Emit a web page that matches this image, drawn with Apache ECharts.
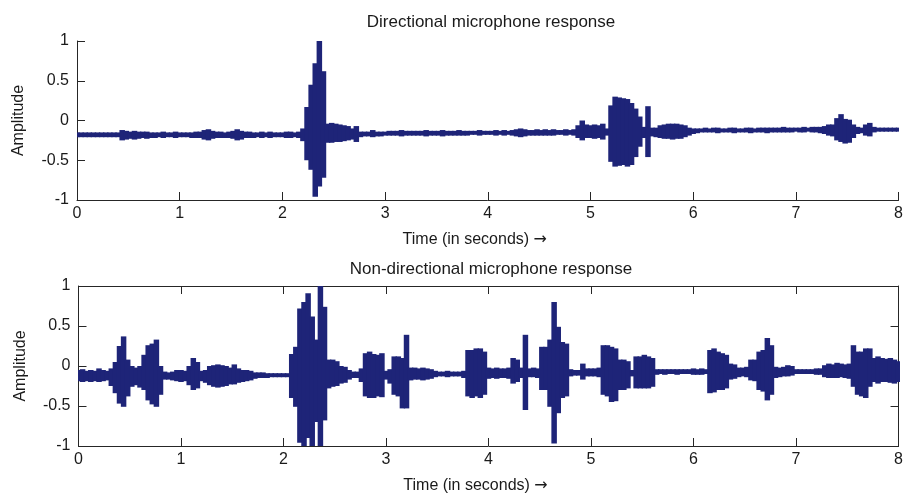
<!DOCTYPE html>
<html>
<head>
<meta charset="utf-8">
<script src="https://cdn.jsdelivr.net/npm/echarts@6/dist/echarts.min.js"></script>
<style>
html,body{margin:0;padding:0;background:#fff;}
#chart{width:906px;height:497px;}
</style>
</head>
<body>
<div id="chart"></div>
<script>
// Sampling step (seconds) of the envelope readings below
const STEP = 0.04;
const xTicks = [0, 1, 2, 3, 4, 5, 6, 7, 8];
const yTicks = [-1, -0.5, 0, 0.5, 1];
const titleTop = 'Directional microphone response';
const titleBottom = 'Non-directional microphone response';
const xName = 'Time (in seconds) {arr|\u2192}';
const yName = 'Amplitude';

// Directional microphone: upper / lower envelope, one value per 0.04 s
const dirHi = [
  -0.15,-0.15,-0.15,-0.15,-0.15,-0.15,-0.15,-0.15,-0.15,-0.15,-0.15,-0.12,-0.13,-0.14,-0.13,-0.14,-0.14,-0.14,-0.15,-0.15,-0.15,-0.14,-0.15,-0.15,-0.14,
  -0.15,-0.15,-0.15,-0.15,-0.14,-0.14,-0.12,-0.11,-0.13,-0.14,-0.14,-0.15,-0.14,-0.13,-0.11,-0.13,-0.14,-0.14,-0.15,-0.15,-0.14,-0.15,-0.14,-0.15,-0.15,
  -0.15,-0.14,-0.14,-0.15,-0.14,-0.10,0.17,0.45,0.72,1.00,0.62,-0.04,-0.03,-0.04,-0.05,-0.06,-0.07,-0.10,-0.07,-0.14,-0.14,-0.14,-0.12,-0.14,-0.14,
  -0.14,-0.13,-0.13,-0.13,-0.12,-0.13,-0.13,-0.13,-0.13,-0.13,-0.12,-0.13,-0.13,-0.13,-0.12,-0.13,-0.13,-0.13,-0.12,-0.13,-0.13,-0.13,-0.13,-0.12,-0.13,
  -0.13,-0.13,-0.12,-0.13,-0.12,-0.13,-0.12,-0.11,-0.10,-0.11,-0.12,-0.12,-0.11,-0.12,-0.11,-0.12,-0.11,-0.12,-0.12,-0.11,-0.12,-0.11,-0.06,0.00,-0.05,
  -0.06,-0.05,-0.06,-0.04,-0.10,0.19,0.30,0.29,0.28,0.27,0.22,0.15,0.05,-0.08,0.18,-0.09,-0.09,-0.06,-0.05,-0.04,-0.04,-0.04,-0.05,-0.06,-0.09,
  -0.10,-0.10,-0.10,-0.09,-0.10,-0.09,-0.09,-0.10,-0.10,-0.09,-0.09,-0.10,-0.10,-0.09,-0.09,-0.10,-0.09,-0.09,-0.09,-0.09,-0.09,-0.09,-0.08,-0.09,-0.09,
  -0.09,-0.09,-0.08,-0.09,-0.08,-0.08,-0.08,-0.07,-0.05,-0.05,0.03,0.08,0.02,0.01,-0.05,-0.08,-0.09,-0.05,-0.03,-0.08,-0.09,-0.09,-0.09,-0.09,-0.09,
  -0.09
];
const dirLo = [
  -0.21,-0.21,-0.21,-0.21,-0.21,-0.21,-0.21,-0.21,-0.21,-0.21,-0.21,-0.25,-0.24,-0.23,-0.24,-0.23,-0.22,-0.23,-0.22,-0.22,-0.21,-0.22,-0.21,-0.21,-0.22,
  -0.21,-0.21,-0.21,-0.22,-0.22,-0.22,-0.24,-0.25,-0.23,-0.22,-0.22,-0.22,-0.22,-0.23,-0.25,-0.24,-0.22,-0.22,-0.22,-0.21,-0.22,-0.21,-0.22,-0.21,-0.21,
  -0.21,-0.22,-0.22,-0.21,-0.22,-0.26,-0.50,-0.62,-0.96,-0.83,-0.72,-0.28,-0.28,-0.27,-0.27,-0.26,-0.25,-0.24,-0.27,-0.21,-0.20,-0.20,-0.21,-0.20,-0.20,
  -0.19,-0.19,-0.19,-0.19,-0.20,-0.19,-0.19,-0.19,-0.19,-0.19,-0.20,-0.19,-0.19,-0.19,-0.20,-0.19,-0.19,-0.19,-0.19,-0.19,-0.19,-0.18,-0.18,-0.19,-0.18,
  -0.18,-0.18,-0.19,-0.18,-0.19,-0.18,-0.19,-0.20,-0.21,-0.20,-0.19,-0.19,-0.19,-0.19,-0.19,-0.19,-0.19,-0.18,-0.18,-0.19,-0.18,-0.19,-0.22,-0.25,-0.22,
  -0.22,-0.23,-0.22,-0.24,-0.19,-0.52,-0.58,-0.57,-0.56,-0.58,-0.56,-0.46,-0.33,-0.22,-0.46,-0.20,-0.21,-0.22,-0.23,-0.23,-0.24,-0.23,-0.23,-0.21,-0.19,
  -0.17,-0.16,-0.15,-0.15,-0.15,-0.15,-0.16,-0.15,-0.15,-0.15,-0.16,-0.15,-0.15,-0.15,-0.16,-0.15,-0.15,-0.15,-0.16,-0.15,-0.15,-0.15,-0.15,-0.15,-0.15,
  -0.14,-0.15,-0.15,-0.14,-0.15,-0.15,-0.16,-0.17,-0.19,-0.20,-0.25,-0.27,-0.29,-0.28,-0.22,-0.17,-0.16,-0.19,-0.20,-0.15,-0.14,-0.14,-0.14,-0.14,-0.14,
  -0.14
];

// Non-directional microphone: upper / lower envelope, one value per 0.04 s
const nonHi = [
  -0.05,-0.04,-0.06,-0.05,-0.06,-0.03,-0.05,-0.06,-0.03,0.05,0.25,0.37,0.08,0.00,-0.02,0.00,0.14,0.26,0.28,0.33,0.00,-0.07,-0.08,-0.07,-0.05,
  -0.05,-0.06,0.00,0.10,0.05,-0.06,-0.05,0.00,0.01,0.02,0.01,0.00,-0.02,0.02,-0.03,-0.05,-0.05,-0.06,-0.08,-0.08,-0.08,-0.09,-0.09,-0.09,-0.09,
  -0.09,-0.09,0.15,0.24,0.72,0.80,0.91,0.62,0.33,1.00,0.74,0.08,0.08,0.06,0.00,-0.01,-0.05,-0.07,-0.07,-0.03,0.16,0.18,0.15,0.14,0.16,
  -0.06,-0.04,0.12,0.12,0.10,0.39,-0.02,-0.02,-0.03,-0.02,-0.03,-0.04,-0.06,-0.07,-0.07,-0.06,-0.07,-0.07,-0.07,-0.06,0.20,0.20,0.22,0.22,0.18,
  -0.02,-0.03,-0.02,-0.03,-0.03,-0.02,0.10,0.08,-0.02,0.39,-0.03,-0.02,-0.03,0.24,0.24,0.33,0.80,0.49,0.30,0.28,-0.04,-0.05,-0.05,0.03,-0.03,
  -0.03,-0.03,-0.02,0.26,0.26,0.24,0.22,0.08,0.08,0.06,-0.05,0.12,0.12,0.14,0.12,0.10,-0.04,-0.04,-0.04,-0.04,-0.04,-0.04,-0.04,-0.04,-0.04,
  -0.03,-0.04,-0.03,-0.04,0.20,0.22,0.18,0.16,0.14,0.03,0.02,-0.02,-0.02,-0.01,0.08,0.08,0.18,0.20,0.35,0.26,-0.01,-0.02,-0.01,0.01,0.00,
  -0.04,-0.04,-0.04,-0.04,-0.04,-0.03,-0.03,0.01,0.03,0.02,0.04,0.03,0.02,0.03,0.26,0.18,0.18,0.22,0.22,0.10,0.12,0.10,0.09,0.10,0.08,
  0.06
];
const nonLo = [
  -0.19,-0.20,-0.19,-0.20,-0.19,-0.20,-0.19,-0.18,-0.25,-0.34,-0.47,-0.51,-0.38,-0.26,-0.24,-0.27,-0.30,-0.43,-0.48,-0.51,-0.36,-0.17,-0.17,-0.18,-0.19,
  -0.20,-0.19,-0.24,-0.30,-0.28,-0.19,-0.21,-0.24,-0.26,-0.27,-0.26,-0.25,-0.23,-0.23,-0.21,-0.20,-0.19,-0.18,-0.16,-0.15,-0.15,-0.15,-0.14,-0.14,-0.14,
  -0.14,-0.14,-0.40,-0.51,-0.96,-1.00,-0.90,-1.00,-0.70,-1.00,-0.68,-0.28,-0.26,-0.25,-0.22,-0.21,-0.17,-0.15,-0.15,-0.20,-0.38,-0.40,-0.40,-0.38,-0.39,
  -0.17,-0.22,-0.36,-0.38,-0.53,-0.53,-0.18,-0.17,-0.17,-0.18,-0.17,-0.16,-0.14,-0.13,-0.13,-0.14,-0.13,-0.13,-0.13,-0.15,-0.38,-0.40,-0.38,-0.40,-0.36,
  -0.16,-0.15,-0.16,-0.15,-0.15,-0.16,-0.22,-0.20,-0.15,-0.55,-0.14,-0.14,-0.15,-0.30,-0.30,-0.51,-0.97,-0.59,-0.40,-0.38,-0.13,-0.12,-0.12,-0.17,-0.13,
  -0.13,-0.13,-0.14,-0.36,-0.38,-0.45,-0.44,-0.30,-0.30,-0.28,-0.13,-0.28,-0.28,-0.28,-0.28,-0.26,-0.11,-0.10,-0.11,-0.10,-0.10,-0.11,-0.10,-0.10,-0.10,
  -0.11,-0.11,-0.11,-0.10,-0.34,-0.33,-0.30,-0.30,-0.28,-0.17,-0.16,-0.14,-0.13,-0.14,-0.18,-0.19,-0.30,-0.32,-0.43,-0.36,-0.15,-0.14,-0.13,-0.13,-0.12,
  -0.10,-0.10,-0.10,-0.10,-0.10,-0.11,-0.11,-0.14,-0.15,-0.15,-0.15,-0.14,-0.15,-0.16,-0.26,-0.36,-0.38,-0.40,-0.26,-0.20,-0.22,-0.20,-0.20,-0.21,-0.22,
  -0.20
];

const WAVE = '#1e2478';
const AXIS = '#262626';
const TEXT = '#1a1a1a';
const FONT = '"Liberation Sans", Arial, sans-serif';

function toItems(hi, lo) {
  return hi.map((h, i) => [i * STEP, lo[i], h]);
}

function renderEnvelope(params, api) {
  const t = api.value(0), lo = api.value(1), hi = api.value(2);
  const a = api.coord([t, hi]);
  const b = api.coord([t, lo]);
  const w = api.size([STEP, 0])[0];
  return {
    type: 'rect',
    shape: { x: a[0] - w / 2 - 0.7, y: a[1], width: w + 1.4, height: Math.max(b[1] - a[1], 1) },
    style: { fill: WAVE }
  };
}

function xAx(gi, withName) {
  return {
    type: 'value', gridIndex: gi, min: xTicks[0], max: xTicks[xTicks.length - 1], interval: 1,
    axisLine: { show: true, onZero: false, lineStyle: { color: AXIS, width: 1 } },
    axisTick: { show: true, inside: true, length: 8, lineStyle: { color: AXIS } },
    axisLabel: { show: true, margin: 6, fontSize: 16, color: TEXT, fontFamily: FONT, showMaxLabel: true, showMinLabel: true },
    splitLine: { show: false },
    name: withName ? xName : '',
    nameLocation: 'middle', nameGap: 32,
    nameTextStyle: {
      fontSize: 16, color: TEXT, fontFamily: FONT, padding: [0, 26, 0, 0],
      rich: { arr: { fontSize: 16, color: TEXT, fontFamily: '"DejaVu Sans", sans-serif' } }
    }
  };
}
function yAx(gi) {
  return {
    type: 'value', gridIndex: gi, min: yTicks[0], max: yTicks[yTicks.length - 1], interval: 0.5,
    axisLine: { show: true, onZero: false, lineStyle: { color: AXIS, width: 1 } },
    axisTick: { show: true, inside: true, length: 8, lineStyle: { color: AXIS } },
    axisLabel: { show: true, margin: 8, fontSize: 16, color: TEXT, fontFamily: FONT },
    splitLine: { show: false },
    name: yName, nameLocation: 'middle', nameGap: 50, nameRotate: 90,
    nameTextStyle: { fontSize: 16, color: TEXT, fontFamily: FONT }
  };
}

const chart = echarts.init(document.getElementById('chart'), null, { renderer: 'canvas' });
chart.setOption({
  animation: false,
  backgroundColor: '#ffffff',
  title: [
    { text: titleTop, left: 486, top: 9, textAlign: 'center',
      textStyle: { fontSize: 17, fontWeight: 'normal', color: TEXT, fontFamily: FONT } },
    { text: titleBottom, left: 486, top: 256, textAlign: 'center',
      textStyle: { fontSize: 17, fontWeight: 'normal', color: TEXT, fontFamily: FONT } }
  ],
  grid: [
    { left: 77, top: 41, width: 826, height: 159 },
    { left: 78.5, top: 286, width: 826.5, height: 160 }
  ],
  xAxis: [
    xAx(0, true),
    xAx(1, true),
    Object.assign(xAx(1, false), { position: 'top', axisLabel: { show: false } })
  ],
  yAxis: [
    yAx(0),
    yAx(1),
    Object.assign(yAx(1), { position: 'right', axisLabel: { show: false }, name: '' })
  ],
  series: [
    { type: 'custom', name: titleTop, xAxisIndex: 0, yAxisIndex: 0, clip: true,
      renderItem: renderEnvelope, encode: { x: 0, y: [1, 2] }, data: toItems(dirHi, dirLo) },
    { type: 'custom', name: titleBottom, xAxisIndex: 1, yAxisIndex: 1, clip: true,
      renderItem: renderEnvelope, encode: { x: 0, y: [1, 2] }, data: toItems(nonHi, nonLo) }
  ]
});
</script>
</body>
</html>
